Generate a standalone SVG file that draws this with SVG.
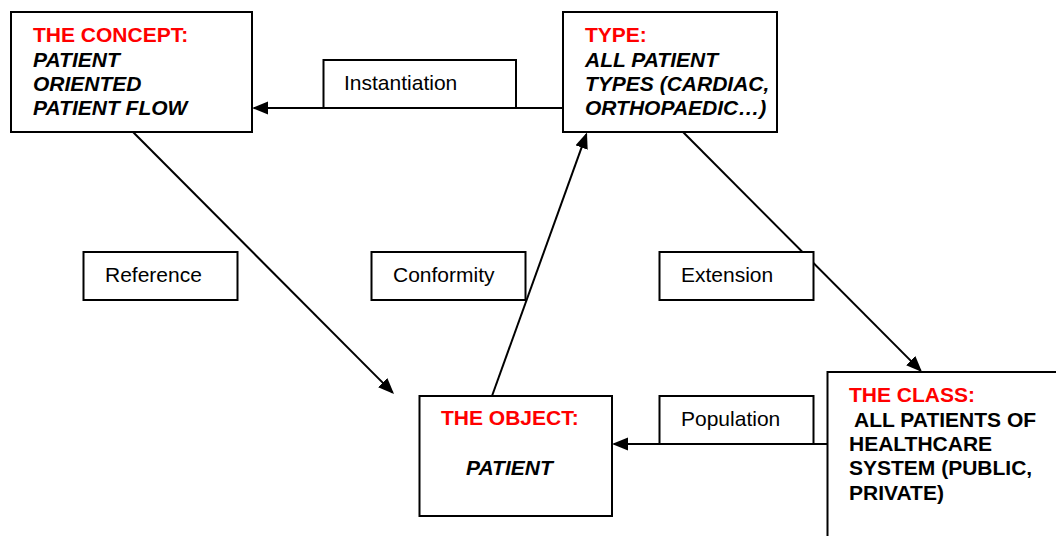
<svg xmlns="http://www.w3.org/2000/svg" width="1056" height="536" viewBox="0 0 1056 536">
  <style>
    .box { fill: #ffffff; stroke: #000000; stroke-width: 2; }
    .conn { fill: none; stroke: #000000; stroke-width: 2; }
    .t { font-family: "Liberation Sans", Arial, sans-serif; font-size: 21px; fill: #000000; }
    .head { font-weight: bold; fill: #ff0000; }
    .bi { font-weight: bold; font-style: italic; }
    .b { font-weight: bold; }
  </style>
  <defs>
    <marker id="arrow" markerUnits="userSpaceOnUse" markerWidth="16" markerHeight="14" refX="14" refY="6.5" orient="auto">
      <path d="M0,0 L16,6.5 L0,13 z" fill="#000000"/>
    </marker>
  </defs>
  <rect x="0" y="0" width="1056" height="536" fill="#ffffff"/>

  <g id="connectors">
    <line class="conn" x1="563" y1="108" x2="254" y2="108" marker-end="url(#arrow)"/>
    <line class="conn" x1="133" y1="132" x2="392.6" y2="392.6" marker-end="url(#arrow)"/>
    <line class="conn" x1="492" y1="396" x2="586.3" y2="134.4" marker-end="url(#arrow)"/>
    <line class="conn" x1="683" y1="132" x2="920.6" y2="370.6" marker-end="url(#arrow)"/>
    <line class="conn" x1="827" y1="444" x2="614" y2="444" marker-end="url(#arrow)"/>
  </g>

  <g id="labels">
    <g id="label-instantiation">
      <rect class="box" x="323.5" y="60" width="192.5" height="48"/>
      <text class="t" x="344" y="90">Instantiation</text>
    </g>
    <g id="label-reference">
      <rect class="box" x="83.5" y="252" width="154" height="48"/>
      <text class="t" x="105" y="282">Reference</text>
    </g>
    <g id="label-conformity">
      <rect class="box" x="371.5" y="252" width="154" height="48"/>
      <text class="t" x="393" y="282">Conformity</text>
    </g>
    <g id="label-extension">
      <rect class="box" x="659.5" y="252" width="154" height="48"/>
      <text class="t" x="681" y="282">Extension</text>
    </g>
    <g id="label-population">
      <rect class="box" x="659.5" y="396" width="154" height="48"/>
      <text class="t" x="681" y="426">Population</text>
    </g>
  </g>

  <g id="node-concept">
    <rect class="box" x="11" y="12" width="241" height="120"/>
    <text class="t head" x="33" y="42">THE CONCEPT:</text>
    <text class="t bi" x="33" y="66.5">PATIENT</text>
    <text class="t bi" x="33" y="91">ORIENTED</text>
    <text class="t bi" x="33" y="115">PATIENT FLOW</text>
  </g>

  <g id="node-type">
    <rect class="box" x="563" y="12" width="214" height="120"/>
    <text class="t head" x="585" y="42">TYPE:</text>
    <text class="t bi" x="585" y="66.5">ALL PATIENT</text>
    <text class="t bi" x="585" y="91">TYPES (CARDIAC,</text>
    <text class="t bi" x="585" y="115">ORTHOPAEDIC…)</text>
  </g>

  <g id="node-object">
    <rect class="box" x="419.5" y="396" width="192.5" height="120"/>
    <text class="t head" x="441" y="425">THE OBJECT:</text>
    <text class="t bi" x="466" y="475">PATIENT</text>
  </g>

  <g id="node-class">
    <rect class="box" x="827.5" y="372" width="240" height="200"/>
    <text class="t head" x="849" y="401.5">THE CLASS:</text>
    <text class="t b" x="849" y="426.5" xml:space="preserve"> ALL PATIENTS OF</text>
    <text class="t b" x="849" y="450.5">HEALTHCARE</text>
    <text class="t b" x="849" y="475">SYSTEM (PUBLIC,</text>
    <text class="t b" x="849" y="499.5">PRIVATE)</text>
  </g>
</svg>
